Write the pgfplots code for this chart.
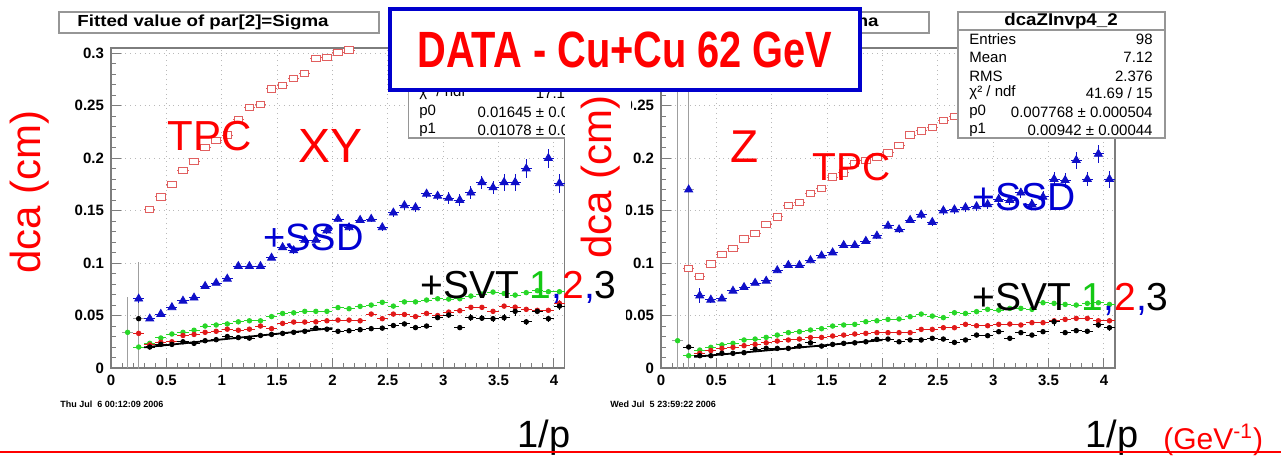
\documentclass[border=0pt]{standalone}
\usepackage{pgfplots}
\pgfplotsset{compat=1.18}
\usepackage{pgfplotstable}
\usepackage{fontspec}
\setmainfont{Liberation Sans}

\definecolor{tpcred}{RGB}{225,95,95}
\definecolor{ssdblue}{RGB}{15,15,200}
\definecolor{svtgreen}{RGB}{40,215,40}
\definecolor{svtred}{RGB}{225,25,25}
\definecolor{framegray}{RGB}{125,125,125}
\definecolor{boxgray}{RGB}{150,150,150}
\definecolor{boxblue}{RGB}{0,0,205}
\definecolor{labred}{RGB}{255,0,0}
\definecolor{labblue}{RGB}{0,0,210}
\definecolor{labgreen}{RGB}{20,200,20}

\newcommand\fs[1]{\fontsize{#1}{#1}\selectfont}

% ---- XY panel: sigma of dca vs 1/p (columns: 1/p, sigma, error)
\pgfplotstableread{
x y ey
0.35 0.151 0.0015
0.45 0.163 0.0015
0.55 0.175 0.0015
0.65 0.188 0.0015
0.75 0.197 0.0015
0.85 0.210 0.0015
0.95 0.217 0.0015
1.05 0.222 0.0015
1.15 0.237 0.0015
1.25 0.248 0.0015
1.35 0.251 0.0015
1.45 0.266 0.0015
1.55 0.269 0.0015
1.65 0.276 0.0015
1.75 0.281 0.0015
1.85 0.295 0.0015
1.95 0.296 0.0015
2.05 0.301 0.0015
2.15 0.303 0.0015
}\xyTPC

\pgfplotstableread{
x y ey
0.25 0.066 0.004
0.35 0.047 0.002
0.45 0.0514 0.002
0.55 0.0578 0.002
0.65 0.064 0.002
0.75 0.067 0.002
0.85 0.078 0.002
0.95 0.081 0.002
1.05 0.085 0.002
1.15 0.097 0.002
1.25 0.097 0.002
1.35 0.097 0.002
1.45 0.105 0.002
1.55 0.115 0.003
1.65 0.112 0.003
1.75 0.122 0.003
1.85 0.122 0.003
1.95 0.131 0.003
2.05 0.142 0.003
2.15 0.134 0.003
2.25 0.141 0.003
2.35 0.142 0.003
2.45 0.134 0.003
2.55 0.148 0.004
2.65 0.155 0.004
2.75 0.153 0.004
2.85 0.166 0.004
2.95 0.164 0.004
3.05 0.162 0.006
3.15 0.160 0.006
3.25 0.167 0.006
3.35 0.177 0.006
3.45 0.172 0.006
3.55 0.177 0.008
3.65 0.177 0.008
3.75 0.190 0.009
3.95 0.200 0.009
4.05 0.176 0.009
}\xySSD

\pgfplotstableread{
x y ey
0.25 0.020 0.0015
0.35 0.0235 0.0015
0.45 0.0286 0.0015
0.55 0.0324 0.0015
0.65 0.034 0.0015
0.75 0.036 0.0015
0.85 0.040 0.0015
0.95 0.041 0.0015
1.05 0.042 0.0015
1.15 0.044 0.0015
1.25 0.045 0.0015
1.35 0.045 0.0015
1.45 0.049 0.0015
1.55 0.052 0.0015
1.65 0.0526 0.0015
1.75 0.054 0.0015
1.85 0.054 0.0015
1.95 0.054 0.0015
2.05 0.0576 0.0015
2.15 0.0565 0.0015
2.25 0.0587 0.0015
2.35 0.060 0.0015
2.45 0.0626 0.0015
2.55 0.059 0.0015
2.65 0.063 0.0015
2.75 0.063 0.0015
2.85 0.0648 0.0015
2.95 0.066 0.0015
3.05 0.0657 0.0015
3.15 0.066 0.0015
3.25 0.0686 0.0015
3.35 0.0705 0.0015
3.45 0.0724 0.0015
3.55 0.071 0.0015
3.65 0.0695 0.0015
3.75 0.0718 0.0015
3.85 0.0737 0.0015
3.95 0.0727 0.0015
4.05 0.0727 0.0015
}\xySVTa

\pgfplotstableread{
x y ey
0.25 0.033 0.002
0.35 0.022 0.0015
0.45 0.0245 0.0015
0.55 0.025 0.0015
0.65 0.031 0.0015
0.75 0.032 0.0015
0.85 0.034 0.0015
0.95 0.035 0.0015
1.05 0.037 0.0015
1.15 0.036 0.0015
1.25 0.037 0.0015
1.35 0.040 0.0015
1.45 0.0375 0.0015
1.55 0.0425 0.0015
1.65 0.0438 0.0015
1.75 0.0438 0.0015
1.85 0.044 0.0015
1.95 0.045 0.0015
2.05 0.0457 0.0015
2.15 0.0457 0.0015
2.25 0.045 0.0015
2.35 0.0514 0.0015
2.45 0.047 0.0015
2.55 0.0514 0.0015
2.65 0.051 0.0015
2.75 0.049 0.0015
2.85 0.052 0.0015
2.95 0.050 0.0015
3.05 0.0533 0.0015
3.15 0.0546 0.0015
3.25 0.0578 0.0015
3.35 0.0578 0.0015
3.45 0.054 0.0015
3.55 0.059 0.0015
3.65 0.058 0.0015
3.75 0.0559 0.0015
3.85 0.055 0.0015
3.95 0.055 0.0015
4.05 0.0616 0.003
}\xySVTb

\pgfplotstableread{
x y ey
0.35 0.020 0.002
0.45 0.0225 0.0015
0.55 0.0225 0.0015
0.65 0.025 0.0015
0.75 0.0235 0.0015
0.85 0.026 0.0015
0.95 0.027 0.0015
1.05 0.030 0.002
1.15 0.029 0.0015
1.25 0.0285 0.0015
1.35 0.031 0.0015
1.45 0.032 0.0015
1.55 0.033 0.0015
1.65 0.034 0.0015
1.75 0.035 0.0015
1.85 0.038 0.002
1.95 0.037 0.0015
2.05 0.035 0.0015
2.15 0.0355 0.0015
2.25 0.0365 0.0015
2.35 0.0375 0.0015
2.45 0.038 0.0015
2.55 0.0405 0.002
2.65 0.042 0.002
2.75 0.0385 0.002
2.85 0.040 0.002
2.95 0.048 0.002
3.05 0.0505 0.003
3.15 0.0385 0.002
3.25 0.048 0.003
3.35 0.0475 0.003
3.45 0.047 0.003
3.55 0.048 0.003
3.65 0.054 0.004
3.75 0.044 0.003
3.85 0.054 0.003
3.95 0.047 0.003
4.05 0.059 0.004
}\xySVTc

% ---- Z panel
\pgfplotstableread{
x y ey
0.25 0.095 0.0015
0.35 0.087 0.0015
0.45 0.099 0.0015
0.55 0.108 0.0015
0.65 0.114 0.0015
0.75 0.123 0.0015
0.85 0.128 0.0015
0.95 0.137 0.0015
1.05 0.144 0.0015
1.15 0.155 0.0015
1.25 0.158 0.0015
1.35 0.166 0.0015
1.45 0.171 0.0015
1.55 0.182 0.0015
1.65 0.186 0.0015
1.75 0.195 0.0015
1.85 0.198 0.0015
1.95 0.201 0.0015
2.05 0.205 0.0015
2.15 0.212 0.0015
2.25 0.222 0.0015
2.35 0.226 0.0015
2.45 0.229 0.0015
2.55 0.236 0.0015
2.65 0.240 0.0015
}\zTPC

\pgfplotstableread{
x y ey
0.35 0.069 0.007
0.45 0.065 0.003
0.55 0.066 0.002
0.65 0.0735 0.002
0.75 0.077 0.002
0.85 0.081 0.002
0.95 0.083 0.002
1.05 0.093 0.002
1.15 0.098 0.002
1.25 0.098 0.002
1.35 0.1026 0.002
1.45 0.107 0.002
1.55 0.110 0.002
1.65 0.117 0.003
1.75 0.117 0.003
1.85 0.121 0.003
1.95 0.126 0.003
2.05 0.1355 0.003
2.15 0.132 0.003
2.25 0.141 0.003
2.35 0.146 0.004
2.45 0.139 0.004
2.55 0.150 0.004
2.65 0.151 0.004
2.75 0.153 0.004
2.85 0.154 0.004
2.95 0.156 0.004
3.05 0.161 0.005
3.15 0.160 0.005
3.25 0.167 0.005
3.35 0.156 0.005
3.45 0.163 0.006
3.55 0.180 0.007
3.65 0.179 0.007
3.75 0.198 0.008
3.85 0.180 0.007
3.95 0.204 0.009
4.05 0.180 0.008
}\zSSD

\pgfplotstableread{
x y ey
0.25 0.0117 0.0015
0.35 0.0171 0.0015
0.45 0.0197 0.0015
0.55 0.022 0.0015
0.65 0.0235 0.0015
0.75 0.0267 0.0015
0.85 0.0276 0.0015
0.95 0.0292 0.0015
1.05 0.0314 0.0015
1.15 0.0337 0.0015
1.25 0.0346 0.0015
1.35 0.0362 0.0015
1.45 0.0375 0.0015
1.55 0.040 0.0015
1.65 0.041 0.0015
1.75 0.0416 0.0015
1.85 0.0441 0.0015
1.95 0.045 0.0015
2.05 0.0463 0.0015
2.15 0.0467 0.0015
2.25 0.0489 0.0015
2.35 0.0514 0.0015
2.45 0.0495 0.0015
2.55 0.048 0.0015
2.65 0.0527 0.0015
2.75 0.052 0.0015
2.85 0.0537 0.0015
2.95 0.0559 0.0015
3.05 0.0552 0.0015
3.15 0.0568 0.0015
3.25 0.0568 0.0015
3.35 0.0559 0.0015
3.45 0.0622 0.0015
3.55 0.0616 0.0015
3.65 0.0606 0.0015
3.75 0.060 0.0015
3.85 0.0616 0.0015
3.95 0.0622 0.0015
4.05 0.0606 0.0015
}\zSVTa

\pgfplotstableread{
x y ey
0.35 0.0140 0.0015
0.45 0.0166 0.0015
0.55 0.0187 0.0015
0.65 0.0197 0.0015
0.75 0.0213 0.0015
0.85 0.0225 0.0015
0.95 0.024 0.0015
1.05 0.0257 0.0015
1.15 0.0267 0.0015
1.25 0.0276 0.0015
1.35 0.029 0.0015
1.45 0.0292 0.0015
1.55 0.0305 0.0015
1.65 0.0314 0.0015
1.75 0.0324 0.0015
1.85 0.033 0.0015
1.95 0.0337 0.0015
2.05 0.0337 0.0015
2.15 0.0337 0.0015
2.25 0.0337 0.0015
2.35 0.0368 0.0015
2.45 0.0368 0.0015
2.55 0.0384 0.0015
2.65 0.0384 0.0015
2.75 0.0416 0.0015
2.85 0.0403 0.0015
2.95 0.0403 0.0015
3.05 0.0416 0.0015
3.15 0.0419 0.0015
3.25 0.041 0.0015
3.35 0.0432 0.0015
3.45 0.0432 0.0015
3.55 0.045 0.0015
3.65 0.0463 0.0015
3.75 0.0473 0.0015
3.85 0.0473 0.0015
3.95 0.045 0.0015
4.05 0.045 0.0015
}\zSVTb

\pgfplotstableread{
x y ey
0.35 0.0117 0.0015
0.45 0.0117 0.0015
0.55 0.014 0.0015
0.65 0.014 0.0015
0.75 0.0146 0.0015
0.85 0.0178 0.0015
0.95 0.0187 0.002
1.05 0.0187 0.0015
1.15 0.0187 0.0015
1.25 0.0209 0.0015
1.35 0.024 0.002
1.45 0.0209 0.0015
1.55 0.0225 0.0015
1.65 0.0235 0.0015
1.75 0.024 0.0015
1.85 0.025 0.0015
1.95 0.0273 0.0015
2.05 0.0276 0.0015
2.15 0.025 0.0015
2.25 0.0267 0.0015
2.35 0.0267 0.0015
2.45 0.0283 0.0015
2.55 0.0276 0.0015
2.65 0.0244 0.0015
2.75 0.0267 0.0015
2.85 0.0314 0.002
2.95 0.0308 0.002
3.05 0.0346 0.002
3.15 0.0283 0.002
3.25 0.0337 0.002
3.35 0.0314 0.002
3.45 0.0346 0.002
3.55 0.0441 0.004
3.65 0.0337 0.002
3.75 0.0356 0.002
3.85 0.035 0.002
3.95 0.041 0.003
4.05 0.0384 0.003
}\zSVTc

\pgfplotsset{
  rootpad/.style={
    scale only axis, width=227pt, height=160pt, anchor=south west,
    xmin=0, xmax=4.1, ymin=0, ymax=0.305,
    xtick={0,0.5,1,1.5,2,2.5,3,3.5,4},
    xticklabels={0,0.5,1,1.5,2,2.5,3,3.5,4},
    ytick={0,0.05,0.1,0.15,0.2,0.25,0.3},
    yticklabels={0,0.05,0.1,0.15,0.2,0.25,0.3},
    scaled x ticks=false, scaled y ticks=false,
    minor x tick num=4, minor y tick num=4,
    xtick pos=bottom, ytick pos=left,
    tick align=inside,
    major tick length=5pt, minor tick length=2.5pt,
    tick style={framegray, line width=0.5pt},
    axis line style={framegray, line width=0.7pt},
    grid=major, major grid style={gray!55, dotted, line width=0.5pt},
    ticklabel style={font=\bfseries\fs{7.5}},
    axis background/.style={fill=white},
  },
  binerr/.style={
    error bars/x dir=both, error bars/x fixed=0.05,
    error bars/y dir=both, error bars/y explicit,
    error bars/error mark=none,
  },
  tpc/.style={only marks, binerr, mark=square*, mark size=2.1pt,
    mark options={yscale=0.75, draw=tpcred, fill=white, line width=0.5pt},
    error bars/error bar style={tpcred, line width=0.5pt}},
  ssd/.style={only marks, binerr, mark=triangle*, mark size=2.3pt,
    mark options={draw=ssdblue, fill=ssdblue},
    error bars/error bar style={ssdblue, line width=0.5pt}},
  svt/.style={only marks, binerr, mark=*, mark size=1.15pt,
    mark options={draw=#1, fill=#1},
    error bars/error bar style={#1, line width=0.5pt}},
  longerr/.style={error bars/error bar style={gray!75, line width=0.6pt}},
}

\begin{document}
\begin{tikzpicture}
\path[use as bounding box, fill=white] (0,0) rectangle (640.5pt,228.5pt);

% ---------------- XY panel ----------------
\begin{axis}[rootpad, at={(55.5pt,44.5pt)}]
\addplot[svt=svtgreen, longerr] coordinates {(0.15,0.034) +- (0,0.034)};
\addplot[svt=black, longerr] coordinates {(0.25,0.047) +- (0,0.054)};
\addplot[svt=svtgreen] table[x=x,y=y,y error=ey] {\xySVTa};
\addplot[svt=svtred] table[x=x,y=y,y error=ey] {\xySVTb};
\addplot[svt=black] table[x=x,y=y,y error=ey] {\xySVTc};
\addplot[black, line width=0.9pt] coordinates {(0.3,0.01968) (2.0,0.03801)};
\addplot[ssd] table[x=x,y=y,y error=ey] {\xySSD};
\addplot[tpc] table[x=x,y=y,y error=ey] {\xyTPC};
\end{axis}

% ---------------- Z panel (its 0.3 label sits under the headline box) ----------------
\begin{axis}[rootpad, at={(330.5pt,44.5pt)},
  yticklabels={0,0.05,0.1,0.15,0.2,0.25,{}}]
\addplot[svt=svtgreen, longerr] coordinates {(0.15,0.026) +- (0,0.3)};
\addplot[ssd, longerr] coordinates {(0.25,0.170) +- (0,0.3)};
\addplot[svt=black] coordinates {(0.25,0.020) +- (0,0.002)};
\addplot[svt=svtgreen] table[x=x,y=y,y error=ey] {\zSVTa};
\addplot[svt=svtred] table[x=x,y=y,y error=ey] {\zSVTb};
\addplot[svt=black] table[x=x,y=y,y error=ey] {\zSVTc};
\addplot[black, line width=0.9pt] coordinates {(0.3,0.010594) (2.0,0.026608)};
\addplot[ssd] table[x=x,y=y,y error=ey] {\zSSD};
\addplot[tpc] table[x=x,y=y,y error=ey] {\zTPC};
\end{axis}

\begin{scope}[x=0.5pt, y=0.5pt]
% fit-result box of the XY panel, cut at the panel edge
\begin{scope}
\clip (408,300) rectangle (565,450);
\draw[boxgray, fill=white, line width=0.6pt] (408,319) rectangle (615,445);
\node[anchor=west, inner sep=0, font=\fs{7.5}] at (419,364) {χ² / ndf};
\node[anchor=east, inner sep=0, font=\fs{7.5}] at (603,364) {17.18 / 15};
\node[anchor=west, inner sep=0, font=\fs{7.5}] at (419,345) {p0};
\node[anchor=east, inner sep=0, font=\fs{7.5}] at (603,345) {0.01645 ± 0.00071};
\node[anchor=west, inner sep=0, font=\fs{7.5}] at (419,327) {p1};
\node[anchor=east, inner sep=0, font=\fs{7.5}] at (603,327) {0.01078 ± 0.00052};
\end{scope}

% panel titles
\draw[boxgray, fill=white, line width=0.6pt] (59,424) rectangle (379,445);
\node[anchor=west, inner sep=0, font=\bfseries\fs{8}] at (77,434.5) {\scalebox{1.17}[1]{Fitted value of par[2]=Sigma}};
\draw[boxgray, fill=white, line width=0.6pt] (609,424) rectangle (929,445);
\node[anchor=west, inner sep=0, font=\bfseries\fs{8}] at (627,434.5) {\scalebox{1.17}[1]{Fitted value of par[2]=Sigma}};

% white strip between the panels
\fill[white] (565,55) rectangle (626,366);
\fill[white] (565,330) rectangle (631,366);

% fit-result box of the Z panel
\draw[boxgray, fill=white, line width=0.6pt] (958,319) rectangle (1165,445);
\draw[boxgray, line width=0.6pt] (958,427) -- (1165,427);
\node[inner sep=0, font=\bfseries\fs{8.5}] at (1061,436) {\scalebox{1.1}[1]{dcaZInvp4\_2}};
\foreach \yy/\lab/\val in {418/Entries/98, 400/Mean/7.12, 381/RMS/2.376, 345/p0/0.007768 ± 0.000504, 327/p1/0.00942 ± 0.00044}{
  \node[anchor=west, inner sep=0, font=\fs{7.5}] at (969,\yy) {\lab};
  \node[anchor=east, inner sep=0, font=\fs{7.5}] at (1153,\yy) {\val};
}
\node[anchor=west, inner sep=0, font=\fs{7.5}] at (969,364) {χ² / ndf};
\node[anchor=east, inner sep=0, font=\fs{7.5}] at (1153,364) {41.69 / 15};

% axis titles
\node[rotate=90, inner sep=0, text=labred, font=\fs{21}] at (30,265) {dca (cm)};
\node[rotate=90, inner sep=0, text=labred, font=\fs{21}] at (601,280) {dca (cm)};

% headline box
\draw[boxblue, fill=white, line width=2pt] (390,367) rectangle (860,448);
\node[inner sep=0, text=labred, font=\bfseries\fs{25.5}] at (625,407) {\scalebox{0.78}[1]{DATA - Cu+Cu 62 GeV}};

% detector annotations
\node[anchor=base west, inner sep=0, text=labred, font=\fs{21}] at (167,307) {TPC};
\node[anchor=base west, inner sep=0, text=labred, font=\fs{24}] at (298,295) {XY};
\node[anchor=base west, inner sep=0, text=labblue, font=\fs{19}] at (263,207) {+SSD};
\node[anchor=base west, inner sep=0, font=\fs{19.5}] at (420,159) {+SVT \textcolor{labgreen}{1}\textcolor{labblue}{,}\textcolor{labred}{2}\textcolor{labblue}{,}3};
\node[anchor=base west, inner sep=0, text=labred, font=\fs{23}] at (730,295) {Z};
\node[anchor=base west, inner sep=0, text=labred, font=\fs{19.5}] at (812,277) {TPC};
\node[anchor=base west, inner sep=0, text=labblue, font=\fs{19.5}] at (972,247) {+SSD};
\node[anchor=base west, inner sep=0, font=\fs{19.5}] at (972,147) {+SVT \textcolor{labgreen}{1}\textcolor{labblue}{,}\textcolor{labred}{2}\textcolor{labblue}{,}3};

% time stamps
\node[anchor=west, inner sep=0, font=\bfseries\fs{4.5}] at (60,53) {Thu Jul\ \ 6 00:12:09 2006};
\node[anchor=west, inner sep=0, font=\bfseries\fs{4.5}] at (610,53) {Wed Jul\ \ 5 23:59:22 2006};

% x-axis titles
\node[anchor=base west, inner sep=0, font=\fs{19}] at (517,10) {1/p};
\node[anchor=base west, inner sep=0, font=\fs{19}] at (1085,10) {1/p};
\node[anchor=base west, inner sep=0, text=labred, font=\fs{15}] at (1163,8) {(GeV\textsuperscript{-1})};

\draw[labred, line width=1pt] (0,5) -- (1281,5);
\end{scope}
\end{tikzpicture}
\end{document}
